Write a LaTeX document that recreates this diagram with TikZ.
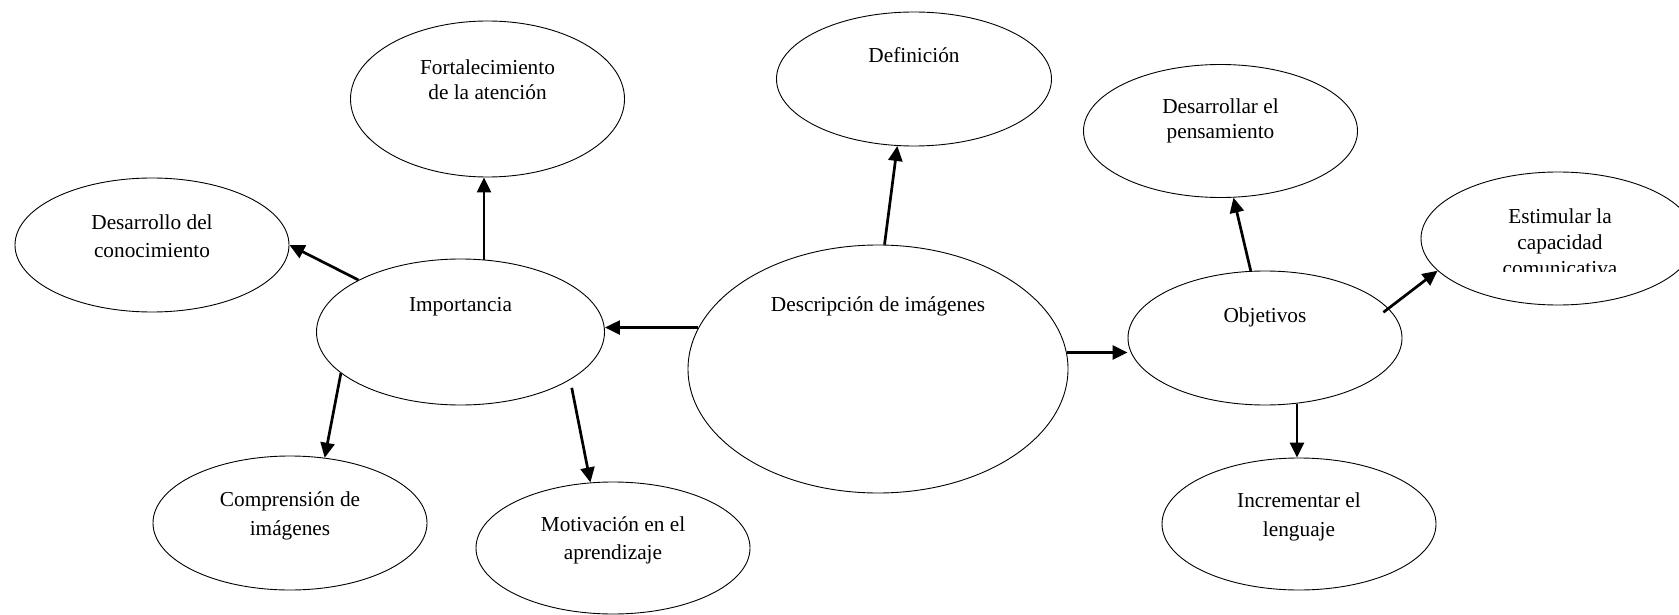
\documentclass[tikz,border=0pt]{standalone}
\usepackage{fontspec}
\setmainfont{Liberation Serif}
\usetikzlibrary{shapes.geometric,arrows.meta}
\tikzset{
  ell/.style={draw=black, line width=0.9pt, ellipse, inner sep=0pt, minimum width=274pt, minimum height=134pt},
  txt/.style={align=center, inner sep=0pt, font=\fontsize{21.3}{28}\selectfont},
  arr/.style={line width=2.7pt, -{Triangle[length=15pt,width=14pt]}}
}
\begin{document}
\begin{tikzpicture}[x=1pt,y=-1pt]
\useasboundingbox (0,0) rectangle (1679,615);
% ellipses
\node[ell, minimum height=156pt] (fort) at (487.5,99) {};
\node[ell] (desa) at (152,245) {};
\node[ell, minimum width=288pt, minimum height=146pt] (imp) at (460.5,332) {};
\node[ell] (comp) at (290,523) {};
\node[ell, minimum height=132pt] (moti) at (613,548) {};
\node[ell, minimum width=275pt] (def) at (914,79) {};
\node[ell, minimum width=380pt, minimum height=248pt] (desc) at (878,369) {};
\node[ell, minimum height=133pt] (desar) at (1220.5,131) {};
\node[ell, minimum height=133pt] (est) at (1558,238.5) {};
\node[ell] (obj) at (1265,338) {};
\node[ell, minimum height=132pt] (incr) at (1299,524) {};
% texts
\node[txt, font=\fontsize{21.3}{25}\selectfont] (fort-t) at (487.5,80) {Fortalecimiento\\de la atención};
\node[txt] (desa-t) at (152,236) {Desarrollo del\\conocimiento};
\node[txt] (imp-t) at (460.5,307) {Importancia};
\node[txt, font=\fontsize{21.3}{29}\selectfont] (comp-t) at (290,516) {Comprensión de\\imágenes};
\node[txt] (moti-t) at (613,540) {Motivación en el\\aprendizaje};
\node[txt] (def-t) at (914,55) {Definición};
\node[txt] (desc-t) at (878,306) {Descripción de imágenes};
\node[txt, font=\fontsize{21.3}{25}\selectfont] (desar-t) at (1220.5,121) {Desarrollar el\\pensamiento};
\begin{scope}
\clip (1380,150) rectangle (1679,271.5);
\node[txt, font=\fontsize{21.3}{26}\selectfont] (est-t) at (1560,242) {Estimular la\\capacidad\\comunicativa};
\end{scope}
\node[txt] (obj-t) at (1265,317) {Objetivos};
\node[txt, font=\fontsize{21.3}{29}\selectfont] (incr-t) at (1299,516.5) {Incrementar el\\lenguaje};
% connector ends off the borders
\coordinate (imp-m) at ([shift={(7,5)}]imp.334);
\coordinate (obj-e) at ([shift={(-6,3)}]obj.13);
% connectors
\draw[arr] (imp.72) -- (imp.72 |- fort.south);
\draw[arr] (imp.153) -- (desa.east);
\draw[arr] (imp.199) -- (comp.62);
\draw[arr] (imp-m) -- (moti.109);
\draw[arr] (desc.167) -- (desc.167 -| imp.east);
\draw[arr] (desc.87) -- (def.256);
\draw[arr] (desc.5) -- (desc.5 -| obj.west);
\draw[arr] (obj.102) -- (desar.281);
\draw[arr] (obj-e) -- (est.195);
\draw[arr] (obj.296) -- (obj.296 |- incr.north);
\end{tikzpicture}
\end{document}
